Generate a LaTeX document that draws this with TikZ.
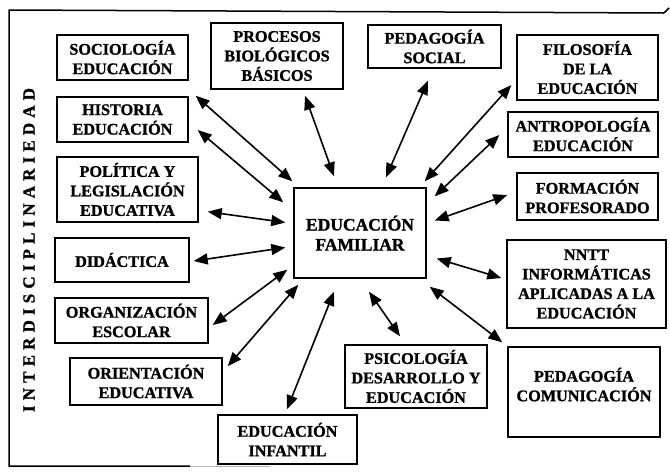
\documentclass[tikz,border=0pt]{standalone}
\usepackage{fontspec}
\setmainfont[BoldFeatures={FakeBold=1.2}]{Liberation Serif}
\usetikzlibrary{arrows.meta}
\begin{document}
\begin{tikzpicture}[x=1pt,y=-1pt,
  box/.style={draw, line width=1.4pt, align=center, inner sep=0pt,
    font=\fontsize{16.2}{19.5}\selectfont\bfseries},
  arr/.style={line width=1.6pt, {Triangle[length=14pt,width=11pt]}-{Triangle[length=14pt,width=11pt]}},
  frame/.style={line width=1.5pt}]
\useasboundingbox (0,0) rectangle (670,475);
% frame
\coordinate (tl) at (9,10);
\coordinate (tr) at (664,13);
\coordinate (bl) at (9,466);
\coordinate (br) at (190,466);
\coordinate (bf) at (270,466);
\coordinate (hk) at (669,8);
\draw[frame] (tr) -- (tl) -- (bl) -- (br);
\draw[frame] (tr) .. controls (666,12) and (667,9) .. (hk);
\draw[line width=0.8pt, gray!60] (br) -- (bf);
\node[rotate=90, font=\fontsize{17}{17}\selectfont\bfseries] (inter) at (29,250)
  {\makebox[324pt][s]{I\hfil N\hfil T\hfil E\hfil R\hfil D\hfil I\hfil S\hfil C\hfil I\hfil P\hfil L\hfil I\hfil N\hfil A\hfil R\hfil I\hfil E\hfil D\hfil A\hfil D}};
% boxes
\node[box, minimum width=131pt, minimum height=45pt] (soc) at (122.5,57.5) {SOCIOLOGÍA\\EDUCACIÓN};
\node[box, minimum width=132pt, minimum height=66pt] (proc) at (277,56) {PROCESOS\\BIOLÓGICOS\\BÁSICOS};
\node[box, minimum width=131pt, minimum height=45pt] (hist) at (122.5,119.5) {HISTORIA\\EDUCACIÓN};
\node[box, minimum width=141pt, minimum height=65pt] (pol) at (127.5,189.5) {POLÍTICA Y\\LEGISLACIÓN\\EDUCATIVA};
\node[box, minimum width=134pt, minimum height=44pt] (did) at (122,260) {DIDÁCTICA};
\node[box, minimum width=153pt, minimum height=45pt] (org) at (131.5,320.5) {ORGANIZACIÓN\\ESCOLAR};
\node[box, minimum width=152pt, minimum height=47pt] (ori) at (146,381.5) {ORIENTACIÓN\\EDUCATIVA};
\node[box, minimum width=139pt, minimum height=49pt] (inf) at (287.5,439.5) {EDUCACIÓN\\INFANTIL};
\node[box, minimum width=132pt, minimum height=90pt, font=\fontsize{17.5}{20}\selectfont\bfseries] (fam) at (360,233) {EDUCACIÓN\\FAMILIAR};
\node[box, minimum width=133pt, minimum height=43pt] (ped) at (434.5,46.5) {PEDAGOGÍA\\SOCIAL};
\node[box, minimum width=141pt, minimum height=65pt] (fil) at (587.5,67.5) {FILOSOFÍA\\DE LA\\EDUCACIÓN};
\node[box, minimum width=150pt, minimum height=45pt] (ant) at (583,134.5) {ANTROPOLOGÍA\\EDUCACIÓN};
\node[box, minimum width=141pt, minimum height=47pt] (for) at (587.5,196.5) {FORMACIÓN\\PROFESORADO};
\node[box, minimum width=159pt, minimum height=88pt] (nntt) at (586.5,284) {NNTT\\INFORMÁTICAS\\APLICADAS A LA\\EDUCACIÓN};
\node[box, minimum width=142pt, minimum height=63pt] (psi) at (416,376.5) {PSICOLOGÍA\\DESARROLLO Y\\EDUCACIÓN};
\node[box, minimum width=152pt, minimum height=90pt, text depth=15pt] (com) at (584,392) {PEDAGOGÍA\\COMUNICACIÓN};
% arrows
\draw[arr] ([shift={(7,15)}]soc.south east) -- ([shift={(-1,-6)}]fam.north west);
\draw[arr] ([shift={(9,10.5)}]hist.east) -- ([shift={(-10,15)}]fam.north west);
\draw[arr] ([shift={(9,-11)}]pol.south east) -- ([shift={(-8,-10.5)}]fam.west);
\draw[arr] ([shift={(28,6)}]proc.south) -- ([shift={(-26,-11)}]fam.north);
\draw[arr] ([shift={(-6.5,12)}]ped.south) -- ([shift={(26,-10)}]fam.north);
\draw[arr] ([shift={(-5,17.5)}]fil.west) -- ([shift={(-2,-6)}]fam.north east);
\draw[arr] ([shift={(-8,0.5)}]ant.west) -- ([shift={(8,9)}]fam.north east);
\draw[arr] ([shift={(-9,-1.5)}]for.west) -- ([shift={(8,-12.5)}]fam.east);
\draw[arr] ([shift={(4,1)}]did.east) -- ([shift={(-8,14.5)}]fam.west);
\draw[arr] ([shift={(4,4.5)}]org.east) -- ([shift={(-6,-9)}]fam.south west);
\draw[arr] ([shift={(5,9)}]ori.north east) -- ([shift={(5,6)}]fam.south west);
\draw[arr] ([shift={(-0.5,-5)}]inf.north) -- ([shift={(-26,13)}]fam.south);
\draw[arr] ([shift={(-16,-8)}]psi.north) -- ([shift={(9,13)}]fam.south);
\draw[arr] ([shift={(-5,-6)}]nntt.west) -- ([shift={(10,25.5)}]fam.east);
\draw[arr] ([shift={(-5,-4)}]com.north west) -- ([shift={(3,8)}]fam.south east);
\end{tikzpicture}
\end{document}
